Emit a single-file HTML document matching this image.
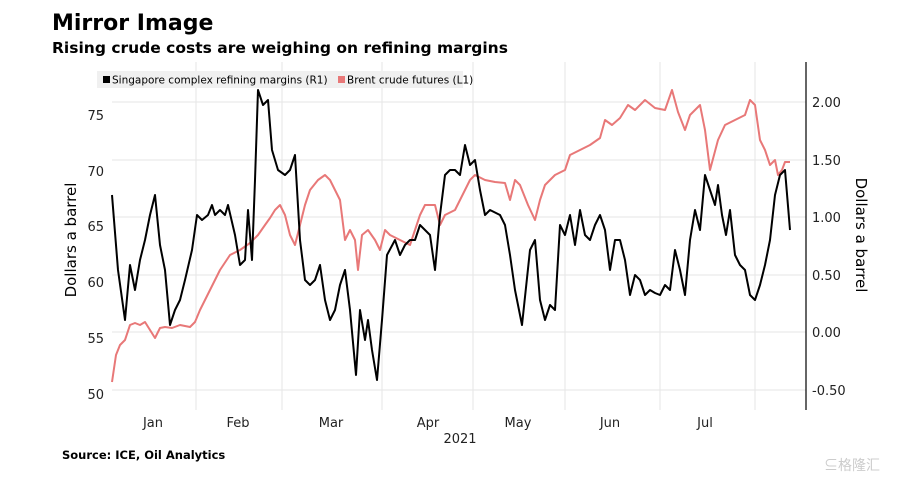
<!DOCTYPE html><html><head><style>
body{margin:0;background:#fff;width:900px;height:481px;overflow:hidden;font-family:"DejaVu Sans","Liberation Sans",sans-serif}
</style></head><body>
<svg width="900" height="481" xmlns="http://www.w3.org/2000/svg" font-family="DejaVu Sans, Liberation Sans, sans-serif">
<text x="52" y="30" font-size="22" font-weight="bold">Mirror Image</text>
<text x="52" y="53" font-size="15.5" font-weight="bold">Rising crude costs are weighing on refining margins</text>
<g stroke="#e6e6e6" stroke-width="1">
<line x1="196" y1="62" x2="196" y2="410"/><line x1="282" y1="62" x2="282" y2="410"/><line x1="382" y1="62" x2="382" y2="410"/><line x1="473" y1="62" x2="473" y2="410"/><line x1="565" y1="62" x2="565" y2="410"/><line x1="660" y1="62" x2="660" y2="410"/><line x1="755" y1="62" x2="755" y2="410"/>
<line x1="112" y1="102" x2="806" y2="102"/><line x1="112" y1="160" x2="806" y2="160"/><line x1="112" y1="217" x2="806" y2="217"/><line x1="112" y1="275" x2="806" y2="275"/><line x1="112" y1="332" x2="806" y2="332"/><line x1="112" y1="390" x2="806" y2="390"/>
</g>
<rect x="97" y="71" width="366" height="17" fill="#f0f0f0"/>
<rect x="103" y="76" width="7" height="7" fill="#000"/>
<text x="112" y="83.5" font-size="10.5">Singapore complex refining margins (R1)</text>
<rect x="338" y="76" width="7" height="7" fill="#e87878"/>
<text x="347" y="83.5" font-size="10.5">Brent crude futures (L1)</text>
<line x1="806" y1="62" x2="806" y2="410" stroke="#000" stroke-width="1.2"/>
<g font-size="13" fill="#222">
<text x="104" y="120" text-anchor="end">75</text><text x="104" y="176" text-anchor="end">70</text><text x="104" y="231" text-anchor="end">65</text><text x="104" y="287" text-anchor="end">60</text><text x="104" y="343" text-anchor="end">55</text><text x="104" y="399" text-anchor="end">50</text>
<text x="812" y="107">2.00</text><text x="812" y="165">1.50</text><text x="812" y="222">1.00</text><text x="812" y="280">0.50</text><text x="812" y="337">0.00</text><text x="812" y="395">-0.50</text>
<text x="153" y="427" text-anchor="middle">Jan</text><text x="238" y="427" text-anchor="middle">Feb</text><text x="331" y="427" text-anchor="middle">Mar</text><text x="428" y="427" text-anchor="middle">Apr</text><text x="518" y="427" text-anchor="middle">May</text><text x="610" y="427" text-anchor="middle">Jun</text><text x="705" y="427" text-anchor="middle">Jul</text>
<text x="460" y="443" text-anchor="middle">2021</text>
</g>
<text x="76" y="240" font-size="15" text-anchor="middle" transform="rotate(-90 76 240)">Dollars a barrel</text>
<text x="856" y="235" font-size="15" text-anchor="middle" transform="rotate(90 856 235)">Dollars a barrel</text>
<text x="62" y="459" font-size="11.5" font-weight="bold">Source: ICE, Oil Analytics</text>
<text x="880" y="470" font-size="14" fill="#ccc" text-anchor="end" font-family="Noto Sans CJK SC, sans-serif">⊆格隆汇</text>
<polyline fill="none" stroke="#e87878" stroke-width="2" stroke-linejoin="round" points="112,382 116,355 120,345 125,340 130,325 135,323 140,325 145,322 150,330 155,338 160,328 165,327 172,328 180,325 190,327 195,322 200,310 210,290 220,270 230,255 240,250 250,243 258,235 265,225 270,218 275,210 280,205 285,215 290,235 295,245 300,225 305,205 310,190 318,180 325,175 330,180 335,190 340,200 345,240 350,230 355,240 358,270 362,235 368,230 375,240 380,250 385,230 390,235 400,240 410,245 420,215 425,205 435,205 440,225 445,215 455,210 460,200 465,190 470,180 475,175 485,180 495,182 505,183 510,200 515,180 520,185 528,205 535,220 540,200 545,185 555,175 565,170 570,155 580,150 590,145 600,138 605,120 612,125 620,118 628,105 635,110 645,100 655,108 665,110 672,90 678,112 685,130 690,115 700,105 705,130 710,170 718,140 725,125 735,120 745,115 750,100 755,105 760,140 765,150 770,165 775,160 778,175 782,170 785,162 790,162"/>
<polyline fill="none" stroke="#000" stroke-width="2" stroke-linejoin="round" points="112,195 118,270 125,320 130,265 135,290 140,260 145,240 150,215 155,195 160,245 165,270 170,325 175,310 180,300 185,280 192,250 197,215 202,220 208,215 212,205 215,215 220,210 225,215 228,205 235,235 240,265 245,260 248,210 252,260 255,180 258,90 263,105 268,100 272,150 278,170 285,175 290,170 295,155 300,240 305,280 310,285 315,280 320,265 325,300 330,320 335,310 340,285 345,270 350,310 356,375 360,310 365,340 368,320 372,350 377,380 382,320 387,255 395,240 400,255 405,245 410,240 415,240 420,225 425,230 430,235 435,270 440,215 445,175 450,170 455,170 460,175 465,145 470,165 475,160 480,190 485,215 490,210 500,215 505,225 510,255 515,290 522,325 530,250 535,240 540,300 545,320 550,305 555,310 560,225 565,235 570,215 575,245 580,210 585,235 590,240 595,225 600,215 605,230 610,270 615,240 620,240 625,260 630,295 635,275 640,280 645,295 650,290 655,293 660,295 665,285 670,290 675,250 680,270 685,295 690,240 695,210 700,230 705,175 710,190 715,205 718,185 722,215 726,235 730,210 735,255 740,265 745,270 750,295 755,300 760,285 765,265 770,240 775,195 780,175 785,170 790,230"/>
</svg>
</body></html>
